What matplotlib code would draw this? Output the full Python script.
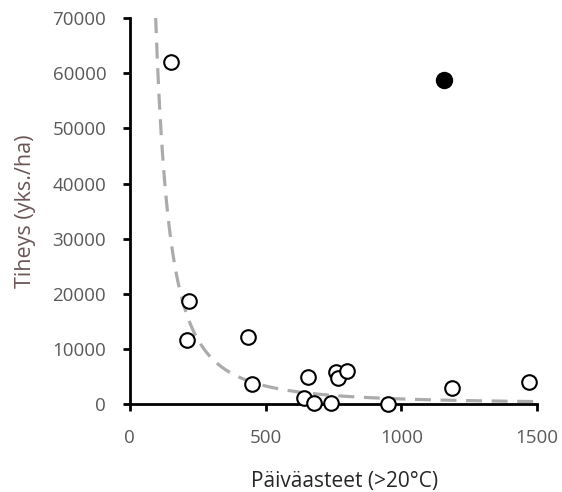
import numpy as np
import matplotlib
matplotlib.use("Agg")
import matplotlib.pyplot as plt

plt.rcParams['font.family'] = ['Open Sans', 'DejaVu Sans']

# open circles: degree days vs density
paivaasteet = [150, 217, 210, 435, 449, 656, 641, 678, 759, 767, 800, 741, 951, 1187, 1471]
tiheys = [62000, 18700, 11600, 12200, 3600, 4900, 1100, 200, 5800, 4700, 5900, 200, 0, 2900, 4000]

# filled point (excluded from the fit)
erillinen_x = [1157]
erillinen_y = [58700]

# power trendline y = a * x^b
trend_a = 3.2e8
trend_b = -1.85
trend_x_min = 95
trend_x_max = 1500

fig = plt.figure(figsize=(5.62, 4.92), dpi=100)
ax = fig.add_axes([0.231, 0.179, 0.725, 0.784])

xt = np.linspace(trend_x_min, trend_x_max, 400)
ax.plot(xt, trend_a * xt ** trend_b, color="#ABABAB", lw=2.3,
        dashes=(5, 3), zorder=1)

ax.plot(paivaasteet, tiheys, "o", ms=10.5, mfc="white", mec="black", mew=1.5,
        ls="none", zorder=3, clip_on=False)
ax.plot(erillinen_x, erillinen_y, "o", ms=11.5, color="black", ls="none", zorder=3)

ax.set_xlim(0, 1500)
ax.set_ylim(0, 70000)
ax.set_xticks([0, 500, 1000, 1500])
ax.set_yticks(range(0, 70001, 10000))

for s in ["top", "right"]:
    ax.spines[s].set_visible(False)
for s in ["left", "bottom"]:
    ax.spines[s].set_linewidth(2)
    ax.spines[s].set_color("black")

ax.tick_params(direction="out", length=5, width=2, labelsize=13.5,
               labelcolor="#595959")
ax.tick_params(axis="x", pad=13)
ax.tick_params(axis="y", pad=12)

ax.set_xlabel("Päiväasteet (>20°C)", fontsize=15, color="#262626")
ax.set_ylabel("Tiheys (yks./ha)", fontsize=15.5, color="#6B5656")
ax.xaxis.set_label_coords(0.526, -0.175)
ax.yaxis.set_label_coords(-0.23, 0.5)

fig.savefig("out.png", dpi=100)
